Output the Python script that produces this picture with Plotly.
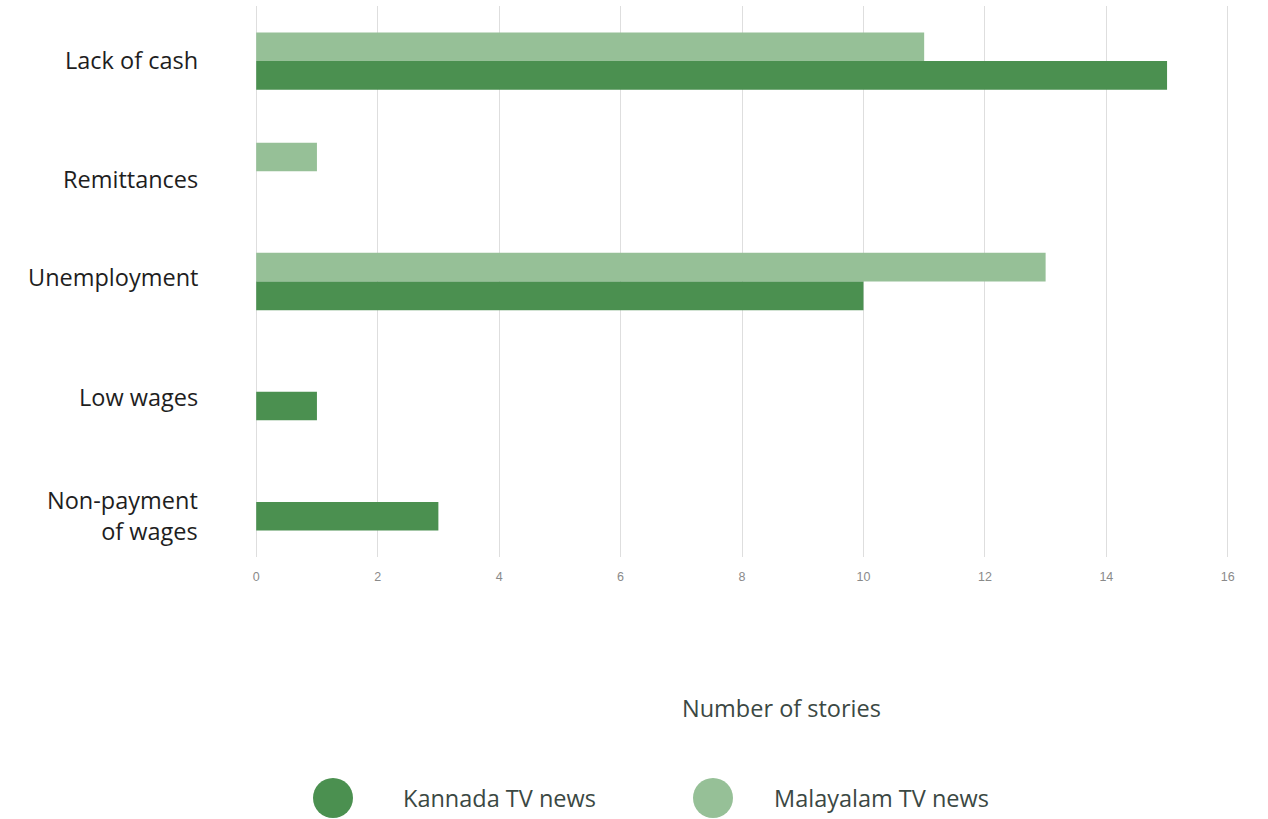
import plotly.graph_objects as go

# Reasons for financial distress covered in TV news stories
categories = ["Lack of cash", "Remittances", "Unemployment", "Low wages", "Non-payment<br>of wages"]
kannada = [15, 0, 10, 1, 3]
malayalam = [11, 1, 13, 0, 0]
x_ticks = [0, 2, 4, 6, 8, 10, 12, 14, 16]

series_names = ["Kannada TV news", "Malayalam TV news"]
dark_green = "#4b9050"
light_green = "#96c097"
label_font = "'Open Sans', Lato, sans-serif"

# vertical nudge (px) of each category label relative to its bar group
label_shift = [1, -8, 5, -5, -14]

W, H = 1268, 819
L, R, T, B = 255, 39, 6, 262

fig = go.Figure()
# Malayalam first so it sits above Kannada in each group (y axis reversed)
fig.add_trace(go.Bar(y=categories, x=malayalam, orientation="h", name=series_names[1],
                     marker=dict(color=light_green, line=dict(width=0)), showlegend=False))
fig.add_trace(go.Bar(y=categories, x=kannada, orientation="h", name=series_names[0],
                     marker=dict(color=dark_green, line=dict(width=0)), showlegend=False))

fig.update_layout(
    width=W, height=H,
    margin=dict(l=L, r=R, t=T, b=B, pad=0),
    paper_bgcolor="white", plot_bgcolor="white",
    barmode="group", bargap=0.48, bargroupgap=0,
    font=dict(family=label_font, color="#222222"),
    xaxis=dict(range=[-0.02, 16.02], tickvals=x_ticks, showgrid=True, gridcolor="#dedede", gridwidth=1,
               zeroline=False, showline=False, ticks="",
               tickfont=dict(family="Liberation Sans, Arial, sans-serif", size=12.5, color="#8a8a8a"),
               ticklabelstandoff=10),
    yaxis=dict(autorange="reversed", showgrid=False, zeroline=False, showline=False, ticks="",
               showticklabels=False),
)

plot_w = W - L - R
plot_h = H - T - B

def px_x(px):
    return (px - L) / plot_w

def px_y(py):
    return (H - B - py) / plot_h

# Category labels, right-aligned left of the plot
for cat, dy in zip(categories, label_shift):
    fig.add_annotation(text=cat, x=px_x(200), y=cat, xref="paper", yref="y",
                       showarrow=False, xanchor="right", yanchor="middle", align="right",
                       yshift=dy, font=dict(family=label_font, size=23.5, color="#1e1e1e"))

# Axis title
fig.add_annotation(text="Number of stories", x=px_x(781), y=px_y(708), xref="paper", yref="paper",
                   showarrow=False, xanchor="center", yanchor="middle",
                   font=dict(family=label_font, size=23.5, color="#3b4843"))

# Legend drawn as circles with labels
legend_items = [(333, 401, dark_green, series_names[0]), (713, 772, light_green, series_names[1])]
for cx, tx, col, label in legend_items:
    fig.add_shape(type="circle", xref="paper", yref="paper",
                  xsizemode="pixel", ysizemode="pixel",
                  xanchor=px_x(cx), yanchor=px_y(798),
                  x0=-20, x1=20, y0=-20, y1=20,
                  fillcolor=col, line=dict(width=0))
    fig.add_annotation(text=label, x=px_x(tx), y=px_y(798), xref="paper", yref="paper",
                       showarrow=False, xanchor="left", yanchor="middle",
                       font=dict(family=label_font, size=23.5, color="#3b4843"))

fig.write_html("out.html")
